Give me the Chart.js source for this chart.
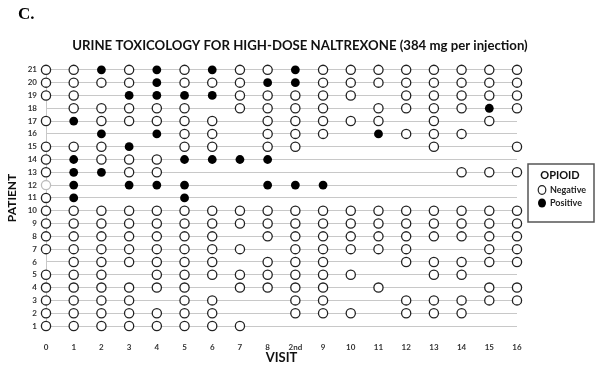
<!DOCTYPE html>
<html>
<head>
<meta charset="utf-8">
<script src="https://cdn.jsdelivr.net/npm/chart.js@4.4.1/dist/chart.umd.min.js"></script>
<style>
  html, body { margin: 0; padding: 0; background: #fff; }
  #tox-chart { display: block; }
</style>
</head>
<body>
<canvas id="tox-chart" width="600" height="374"></canvas>
<script>
// Urine toxicology per patient and visit, high-dose naltrexone panel

const visits = ['0', '1', '2', '3', '4', '5', '6', '7', '8', '2nd', '9', '10', '11', '12', '13', '14', '15', '16']
const patients = [21, 20, 19, 18, 17, 16, 15, 14, 13, 12, 11, 10, 9, 8, 7, 6, 5, 4, 3, 2, 1]

// one string per patient, one char per visit:
// N = negative, n = negative (faint mark), P = positive, - = no sample
const results = [
  'NNPNPNPNNPNNNNNNNN', // 21
  'NNNNPNNNPPNNNNNNNN', // 20
  'NN-PPPPNNNNN-NNNNN', // 19
  '-NNNNN-NNNN-NNNNPN', // 18
  'NPNNNNN-NNNNN-N-N-', // 17
  '--P-PNN-NNN-PNNN--', // 16
  'NNNP-NN-NN----N--N', // 15
  'NPNNNPPPP---------', // 14
  'NPPNN----------NNN', // 13
  'nP-PPP--PPP-------', // 12
  'NP---P------------', // 11
  'NNNNNNNNNNNNNNNNNN', // 10
  'NNNNNNNNNNNNNNNNNN', // 9
  'NNNNNNN-NNNNNNNNNN', // 8
  'NNNNNNNN-NNNNN--NN', // 7
  '-NNNNNN-NNN--NNNNN', // 6
  'NNN-NNNNNNNN--NN--', // 5
  'NNNNNN-NNNN-N---NN', // 4
  'NNNN-NN--NN--NNNNN', // 3
  'NNNNNNN--NNN-NNN--', // 2
  'NNNNNNNN----------', // 1
]

const FONT = 'Lato, "Open Sans", sans-serif'
const INK = '#222'
const FAINT = '#bdbdbd'
const RULE = '#c8c8c8'

const negPoints = []
const negBorders = []
const posPoints = []

patients.forEach((p, i) => {
  results[i].split('').forEach((c, j) => {
    if (c === 'P') {
      posPoints.push({ x: visits[j], y: p })
    } else if (c === 'N' || c === 'n') {
      negPoints.push({ x: visits[j], y: p })
      negBorders.push(c === 'n' ? FAINT : INK)
    }
  })
})

// "C." panel letter and the boxed OPIOID key
const decorations = {
  id: 'decorations',
  afterDraw(chart) {
    const ctx = chart.ctx
    ctx.save()
    ctx.fillStyle = '#000'
    ctx.textBaseline = 'middle'
    ctx.textAlign = 'left'
    ctx.font = 'bold 17px "Liberation Serif", "DejaVu Serif", serif'
    ctx.fillText('C.', 18, 15)

    // key box
    ctx.strokeStyle = '#555'
    ctx.lineWidth = 1.5
    ctx.strokeRect(528, 164, 66, 58)

    ctx.textAlign = 'center'
    ctx.font = 'bold 11px ' + FONT
    ctx.fillStyle = '#111'
    ctx.fillText('OPIOID', 560, 175)

    const neg = chart.data.datasets[0]
    const pos = chart.data.datasets[1]

    ctx.beginPath()
    ctx.ellipse(542, 190, 3.8, 4.3, 0, 0, Math.PI * 2)
    ctx.fillStyle = '#fff'
    ctx.fill()
    ctx.lineWidth = 1.2
    ctx.strokeStyle = INK
    ctx.stroke()

    ctx.beginPath()
    ctx.ellipse(542, 203, 4, 4.6, 0, 0, Math.PI * 2)
    ctx.fillStyle = pos.pointBackgroundColor
    ctx.fill()

    ctx.textAlign = 'left'
    ctx.font = 'bold 9px ' + FONT
    ctx.fillStyle = '#222'
    ctx.fillText(neg.label, 550, 190.5)
    ctx.fillText(pos.label, 550, 203.5)
    ctx.restore()
  }
}

new Chart(document.getElementById('tox-chart'), {
  type: 'scatter',
  data: {
    datasets: [
      {
        label: 'Negative',
        data: negPoints,
        pointRadius: 4.6,
        pointHoverRadius: 4.6,
        pointBorderWidth: 1.3,
        pointBorderColor: negBorders,
        pointBackgroundColor: '#fff',
        clip: false,
      },
      {
        label: 'Positive',
        data: posPoints,
        pointRadius: 4.4,
        pointHoverRadius: 4.4,
        pointBorderWidth: 0,
        pointBorderColor: '#000',
        pointBackgroundColor: '#000',
        clip: false,
      }
    ]
  },
  options: {
    responsive: false,
    animation: false,
    layout: { padding: 0 },
    scales: {
      x: {
        type: 'category',
        labels: visits,
        offset: false,
        grid: { display: false, drawTicks: false },
        border: { display: false },
        ticks: {
          autoSkip: false,
          maxRotation: 0,
          padding: 17,
          color: '#333',
          font: { family: FONT, size: 8, weight: 'bold' }
        },
        title: {
          display: true,
          text: 'VISIT',
          color: '#111',
          font: { family: FONT, size: 13, weight: 'bold' },
          padding: { top: 0, bottom: 8 }
        },
        afterFit: (s) => { s.height = 48 }
      },
      y: {
        min: 1,
        max: 21,
        grid: { color: RULE, lineWidth: 1, drawTicks: false },
        border: { display: true, color: RULE },
        ticks: {
          stepSize: 1,
          padding: 9,
          color: '#333',
          font: { family: FONT, size: 8, weight: 'bold' }
        },
        title: {
          display: true,
          text: 'PATIENT',
          color: '#111',
          font: { family: FONT, size: 12, weight: 'bold' },
          padding: { top: 5, bottom: 0 }
        },
        afterFit: (s) => { s.width = 46 }
      },
      // empty right-hand band that holds the OPIOID key
      keyBand: {
        type: 'linear',
        position: 'right',
        grid: { display: false, drawTicks: false },
        border: { display: false },
        ticks: { display: false },
        afterFit: (s) => { s.width = 83 }
      }
    },
    plugins: {
      legend: { display: false },
      tooltip: { enabled: false },
      title: {
        display: true,
        text: 'URINE TOXICOLOGY FOR HIGH-DOSE NALTREXONE (384 mg per injection)',
        color: '#111',
        font: { family: FONT, size: 13.2, weight: 'bold' },
        padding: { top: 38, bottom: 16 }
      }
    }
  },
  plugins: [decorations]
})
</script>
</body>
</html>
